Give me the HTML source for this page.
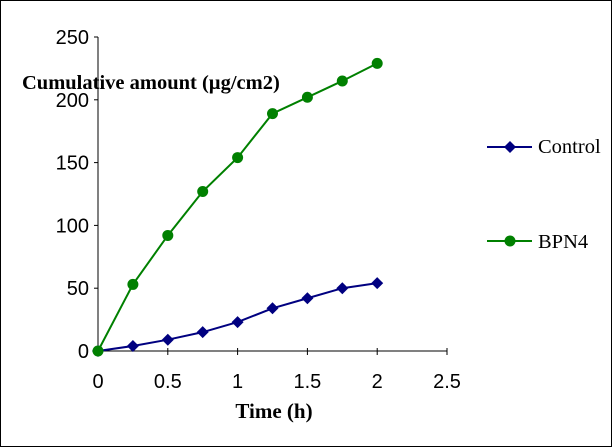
<!DOCTYPE html>
<html><head><meta charset="utf-8"><style>
body{margin:0;background:#fff}
svg{display:block;font-family:"Liberation Sans",sans-serif}
</style></head><body>
<svg width="613" height="448">
<rect x="0.5" y="0.5" width="611" height="446" fill="#fff" stroke="#000"/>
<g id="axes"></g><g id="series"></g>
<text x="22" y="89" font-family="Liberation Serif" font-weight="bold" font-size="20.5">Cumulative amount (µg/cm2)</text>
<text x="274" y="418" text-anchor="middle" font-family="Liberation Serif" font-weight="bold" font-size="21">Time (h)</text>
<g>
<line x1="487" y1="147" x2="532" y2="147" stroke="#000080" stroke-width="2"/>
<path d="M510 141 L516 147 L510 153 L504 147Z" fill="#000080"/>
<text x="538" y="153" font-family="Liberation Serif" font-size="20.5">Control</text></g>
<g>
<line x1="487" y1="241" x2="532" y2="241" stroke="#008000" stroke-width="2"/>
<circle cx="510" cy="241" r="5.5" fill="#008000"/>
<text x="538" y="248" font-family="Liberation Serif" font-size="20.5">BPN4</text></g>
</svg>
<script>
const xs=[0,0.25,0.5,0.75,1,1.25,1.5,1.75,2];
const control=[0,4,9,15,23,34,42,50,54];
const bpn4=[0,53,92,127,154,189,202,215,229];
const xTicks=[0,0.5,1,1.5,2,2.5];
const yTicks=[0,50,100,150,200,250];
const X=v=>98+v*139.6, Y=v=>351-v*1.256;
const NS="http://www.w3.org/2000/svg";
function mk(t,a,p){const e=document.createElementNS(NS,t);for(const k in a)e.setAttribute(k,a[k]);p.appendChild(e);return e;}
const ax=document.getElementById('axes'), se=document.getElementById('series');
let l=mk('line',{x1:X(0),y1:Y(0),x2:X(2.5),y2:Y(0),stroke:'#000'},ax);


l=mk('line',{x1:X(0),y1:Y(0),x2:X(0),y2:Y(250),stroke:'#000'},ax);


xTicks.forEach(v=>{mk('line',{x1:X(v),y1:Y(0)-3,x2:X(v),y2:Y(0)+4,stroke:'#000'},ax);
const t=mk('text',{x:X(v),y:388,'text-anchor':'middle','font-size':20},ax);t.textContent=v;

});
yTicks.forEach(v=>{mk('line',{x1:X(0)-4,y1:Y(v),x2:X(0),y2:Y(v),stroke:'#000'},ax);
const t=mk('text',{x:89,y:Y(v)+7,'text-anchor':'end','font-size':20},ax);t.textContent=v;

});
function series(vals,col,name,shape){
const g=mk('g',{},se);


mk('polyline',{points:xs.map((x,i)=>X(x)+','+Y(vals[i])).join(' '),fill:'none',stroke:col,'stroke-width':2},g);
xs.forEach((x,i)=>{const cx=X(x),cy=Y(vals[i]);
if(shape==='d')mk('path',{d:`M${cx} ${cy-6}L${cx+6} ${cy}L${cx} ${cy+6}L${cx-6} ${cy}Z`,fill:col},g);
else mk('circle',{cx,cy,r:5.5,fill:col},g);});
}
series(control,'#000080','control-series','d');
series(bpn4,'#008000','bpn4-series','c');
</script>
</body></html>
